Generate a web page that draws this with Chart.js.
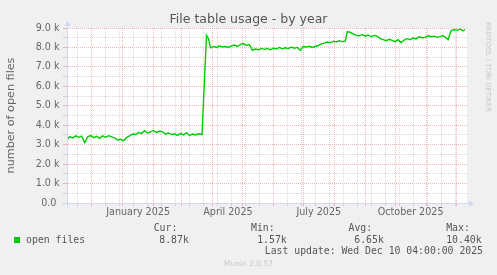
<!DOCTYPE html>
<html><head><meta charset="utf-8">
<script src="https://cdn.jsdelivr.net/npm/chart.js@4.4.0/dist/chart.umd.min.js"></script>
<style>
html,body{margin:0;padding:0;background:#f0f0f0;}
#wrap{position:relative;width:497px;height:275px;overflow:hidden;background:#f0f0f0;}
#c{position:absolute;left:0;top:0;}
.t{position:absolute;white-space:pre;font-family:"DejaVu Sans Mono",monospace;font-size:9.8px;line-height:10px;color:#555;}
#sq{position:absolute;left:14px;top:236.5px;width:6px;height:6px;background:#00cc00;}
#munin{position:absolute;left:0;width:497px;top:260.4px;text-align:center;font-family:"DejaVu Sans",sans-serif;font-size:7.5px;line-height:8px;color:#c8c8c8;}
#rrd{position:absolute;left:483.5px;top:21.7px;writing-mode:vertical-rl;font-family:"DejaVu Sans",sans-serif;font-size:7px;line-height:8px;color:#c8c8c8;white-space:nowrap;}
</style></head><body>
<div id="wrap">
<canvas id="c" width="497" height="275"></canvas>
<div id="sq"></div>
<div class="t" style="left:26.1px;top:234.5px">open files</div>
<div class="t" style="left:153.7px;top:222.9px">Cur:</div>
<div class="t" style="left:251px;top:222.9px">Min:</div>
<div class="t" style="left:348.5px;top:222.9px">Avg:</div>
<div class="t" style="left:446.2px;top:222.9px">Max:</div>
<div class="t" style="left:159.3px;top:234.5px">8.87k</div>
<div class="t" style="left:257.2px;top:234.5px">1.57k</div>
<div class="t" style="left:354.3px;top:234.5px">6.65k</div>
<div class="t" style="left:446.2px;top:234.5px">10.40k</div>
<div class="t" style="right:14px;top:246.2px">Last update: Wed Dec 10 04:00:00 2025</div>
<div id="munin">Munin 2.0.57</div>
<div id="rrd">RRDTOOL / TOBI OETIKER</div>
</div>
<script>
// x values: days since 2024-11-01
const days = [5,8,11,14,17,20,23,26,29,32,35,38,41,44,47,50,53,56,59,62,65,68,71,74,77,80,83,86,89,92,95,98,101,104,107,110,113,116,119,122,125,128,131,134,137,140.5,
  145,147,149,152,155,158,161,164,167,170,173,176,179,182,185,188,191,194,197,200,203,206,209,212,215,218,221,224,227,230,233,236,239,242,245,248,251,254,257,260,263,266,269,272,275,278,281,284,
  286,289,292,295,298,301,304,307,310,313,316,319,322,325,328,331,334,337,340,343,346,349,352,355,358,361,364,367,370,373,376,379,382,385,387,390,393,396,399,402,404];
const openFiles = [3240,3420,3350,3450,3380,3440,3100,3400,3470,3360,3430,3340,3450,3380,3460,3400,3350,3240,3280,3200,3380,3450,3550,3520,3620,3580,3720,3600,3660,3730,3620,3700,3660,3550,3600,3520,3560,3480,3580,3500,3620,3460,3550,3500,3560,3520,
  8620,8450,7980,8050,8000,8080,8020,8050,8000,8080,8120,8050,8150,8200,8100,8150,7850,7920,7880,7950,7900,7950,7880,7960,7920,8000,7930,7980,7940,8020,7960,8000,7860,8050,8020,8060,8000,8050,8100,8180,8220,8280,8250,8320,8280,8340,8300,8320,
  8800,8780,8700,8620,8600,8660,8580,8640,8550,8620,8580,8450,8400,8350,8420,8360,8300,8400,8250,8380,8450,8400,8480,8440,8550,8500,8520,8600,8550,8580,8520,8560,8600,8500,8400,8860,8920,8880,8950,8850,8920];
const monthStarts = [30,61,92,120,151,181,212,242,273,304,334,365,395];
const minorDays = [16,44,58,72,86,100,114,128,142,156,170,184,198,226,240,254,268,282,296,310,324,338,352,366,380,394];
const labelDays = [76.5,166.5,257.5,349.5];
const labelTexts = ['January 2025','April 2025','July 2025','October 2025'];
const yMin = 0, yMax = 9000, yStep = 500;
const xMin = 5.25, xMax = 406;

const MAJOR = 'rgba(235,100,100,0.45)';
const MINOR = 'rgba(150,150,150,0.35)';
const AXIS = '#CFD6F8';
const NONE = 'rgba(0,0,0,0)';
const FONT = 'DejaVu Sans';

const points = days.map((d, i) => ({x: d, y: openFiles[i]}));
const xTicks = [...monthStarts, ...minorDays, ...labelDays].sort((a, b) => a - b);
const xColor = ctx => {
  const v = ctx.tick ? ctx.tick.value : null;
  if (monthStarts.includes(v)) return MAJOR;
  if (minorDays.includes(v)) return MINOR;
  return NONE;
};

const bgPlugin = {
  id: 'bg',
  beforeDraw(chart) {
    const {ctx, chartArea: a} = chart;
    ctx.save();
    ctx.fillStyle = '#ffffff';
    ctx.fillRect(a.left, a.top, a.right - a.left, a.bottom - a.top);
    ctx.restore();
  }
};
const arrowPlugin = {
  id: 'arrows',
  afterDraw(chart) {
    const {ctx, chartArea: a} = chart;
    const xl = Math.round(a.left) + 0.5, yb = Math.round(a.bottom) + 0.5;
    ctx.save();
    ctx.strokeStyle = AXIS; ctx.fillStyle = AXIS; ctx.lineWidth = 1;
    ctx.beginPath();
    ctx.moveTo(xl, yb + 3.5); ctx.lineTo(xl, a.top - 2);
    ctx.moveTo(xl - 3.5, yb); ctx.lineTo(a.right + 2, yb);
    ctx.stroke();
    ctx.beginPath();
    ctx.moveTo(xl, a.top - 7); ctx.lineTo(xl - 3, a.top - 2); ctx.lineTo(xl + 3, a.top - 2); ctx.closePath(); ctx.fill();
    ctx.beginPath();
    ctx.moveTo(a.right + 7, yb); ctx.lineTo(a.right + 2, yb - 3); ctx.lineTo(a.right + 2, yb + 3); ctx.closePath(); ctx.fill();
    ctx.restore();
  }
};

new Chart(document.getElementById('c'), {
  type: 'line',
  data: {
    datasets: [{
      label: 'open files',
      data: points,
      borderColor: '#00cc00',
      borderWidth: 1.4,
      pointRadius: 0,
      tension: 0,
      fill: false
    }]
  },
  options: {
    responsive: false,
    animation: false,
    devicePixelRatio: 1,
    layout: {padding: {left: 0, right: 0, top: 0, bottom: 0}},
    plugins: {
      legend: {display: false},
      tooltip: {enabled: false},
      title: {
        display: true,
        text: 'File table usage - by year',
        color: '#555',
        font: {family: FONT, size: 12.5, weight: 'normal'},
        padding: {top: 12, bottom: 1}
      }
    },
    scales: {
      x: {
        type: 'linear',
        min: xMin, max: xMax,
        afterBuildTicks: s => { s.ticks = xTicks.map(v => ({value: v})); },
        afterFit: s => { s.height = 72; },
        ticks: {
          autoSkip: false, maxRotation: 0, minRotation: 0,
          color: '#666', font: {family: FONT, size: 9.6}, padding: 1,
          callback: v => { const i = labelDays.indexOf(v); return i >= 0 ? labelTexts[i] : ''; }
        },
        grid: {color: xColor, tickColor: xColor, lineWidth: 1, drawTicks: true, tickLength: 3},
        border: {display: true, color: AXIS, dash: [1, 1]}
      },
      y: {
        min: yMin, max: yMax,
        afterFit: s => { s.width = 67; },
        ticks: {
          stepSize: yStep, autoSkip: false,
          color: '#666', font: {family: FONT, size: 9.6}, padding: 3.5,
          callback: v => v % 1000 === 0 ? (v === 0 ? '0.0 ' : (v / 1000).toFixed(1) + ' k') : ''
        },
        grid: {
          color: c => c.tick.value % 1000 === 0 ? MAJOR : MINOR,
          tickColor: c => c.tick.value % 1000 === 0 ? MAJOR : MINOR,
          lineWidth: 1, drawTicks: true, tickLength: 4
        },
        border: {display: true, color: AXIS, dash: [1, 1]},
        title: {
          display: true, text: 'number of open files', color: '#666',
          font: {family: FONT, size: 11.2}, padding: {top: 4, bottom: 0}
        }
      },
      yRight: {
        position: 'right',
        display: true,
        min: yMin, max: yMax,
        afterFit: s => { s.width = 30; },
        ticks: {display: false},
        grid: {display: false, drawTicks: false},
        border: {display: false}
      }
    }
  },
  plugins: [bgPlugin, arrowPlugin]
});
</script>
</body></html>
